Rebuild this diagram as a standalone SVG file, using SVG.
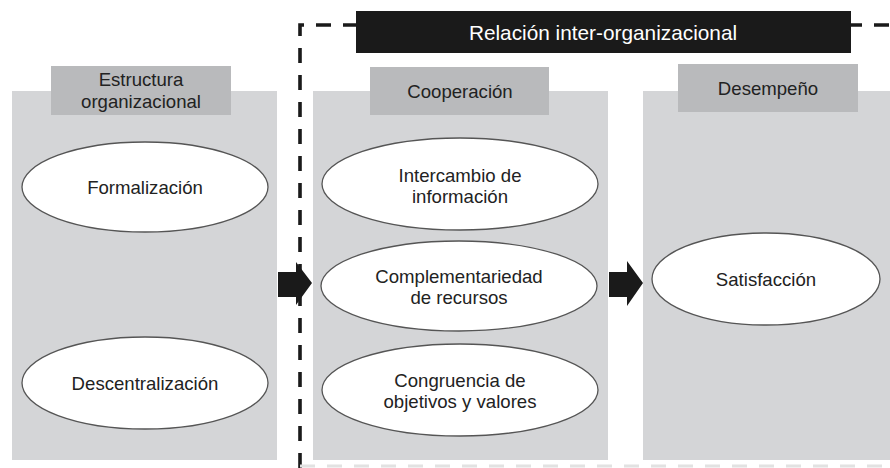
<svg xmlns="http://www.w3.org/2000/svg" width="890" height="468" viewBox="0 0 890 468">
<style>
text{font-family:"Liberation Sans",Arial,sans-serif;fill:#222;text-anchor:middle}
.panel{fill:#d4d5d7}
.hdr{fill:#b9babc}
.ell{fill:#fff;stroke:#555;stroke-width:1.3}
.t{font-size:18.6px}
.dash{fill:none;stroke:#1a1a1a;stroke-width:3.6;stroke-dasharray:15 12}
.arrow{fill:#1a1a1a}
</style>
<rect width="890" height="468" fill="#fff"/>
<g id="frame">
<path class="dash" d="M356,25 H300 V468" stroke-dashoffset="2"/>
<path class="dash" d="M851,25 H890" stroke-dashoffset="4"/>
<path d="M300,466 H890" fill="none" stroke="#e2e2e2" stroke-width="3" stroke-dasharray="15 12"/>
</g>
<g id="title">
<rect x="356" y="11" width="495" height="42" fill="#1a1a1a"/>
<text x="603" y="40" style="fill:#fff;font-size:20.8px">Relación inter-organizacional</text>
</g>
<g id="panel-estructura">
<rect class="panel" x="12" y="91" width="265" height="369"/>
<rect class="hdr" x="51" y="66" width="180" height="49"/>
<text class="t" x="141" y="86">Estructura</text>
<text class="t" x="141" y="108">organizacional</text>
</g>
<g id="panel-cooperacion">
<rect class="panel" x="313" y="91" width="295" height="369"/>
<rect class="hdr" x="370" y="67" width="179" height="48"/>
<text class="t" x="460" y="98">Cooperación</text>
</g>
<g id="panel-desempeno">
<rect class="panel" x="643" y="91" width="247" height="369"/>
<rect class="hdr" x="678" y="64" width="180" height="48"/>
<text class="t" x="768" y="95">Desempeño</text>
</g>
<g id="formalizacion">
<ellipse class="ell" cx="145" cy="187" rx="123" ry="45"/>
<text class="t" x="145" y="194">Formalización</text>
</g>
<g id="descentralizacion">
<ellipse class="ell" cx="145" cy="383" rx="123" ry="46"/>
<text class="t" x="145" y="390">Descentralización</text>
</g>
<g id="intercambio">
<ellipse class="ell" cx="460" cy="184" rx="138" ry="46"/>
<text class="t" x="460" y="182">Intercambio de</text>
<text class="t" x="460" y="203">información</text>
</g>
<g id="complementariedad">
<ellipse class="ell" cx="459" cy="286" rx="138" ry="45"/>
<text class="t" x="459" y="283">Complementariedad</text>
<text class="t" x="459" y="304">de recursos</text>
</g>
<g id="congruencia">
<ellipse class="ell" cx="460" cy="390" rx="138" ry="46"/>
<text class="t" x="460" y="387">Congruencia de</text>
<text class="t" x="460" y="408">objetivos y valores</text>
</g>
<g id="satisfaccion">
<ellipse class="ell" cx="766" cy="279" rx="114" ry="46"/>
<text class="t" x="766" y="286">Satisfacción</text>
</g>
<g id="connectors">
<path class="arrow" d="M278,272 H296 V262 L312,283 L296,305 V297 H278 Z"/>
<path class="arrow" d="M609,272 H627 V261 L643,283 L627,306 V297 H609 Z"/>
</g>
</svg>
